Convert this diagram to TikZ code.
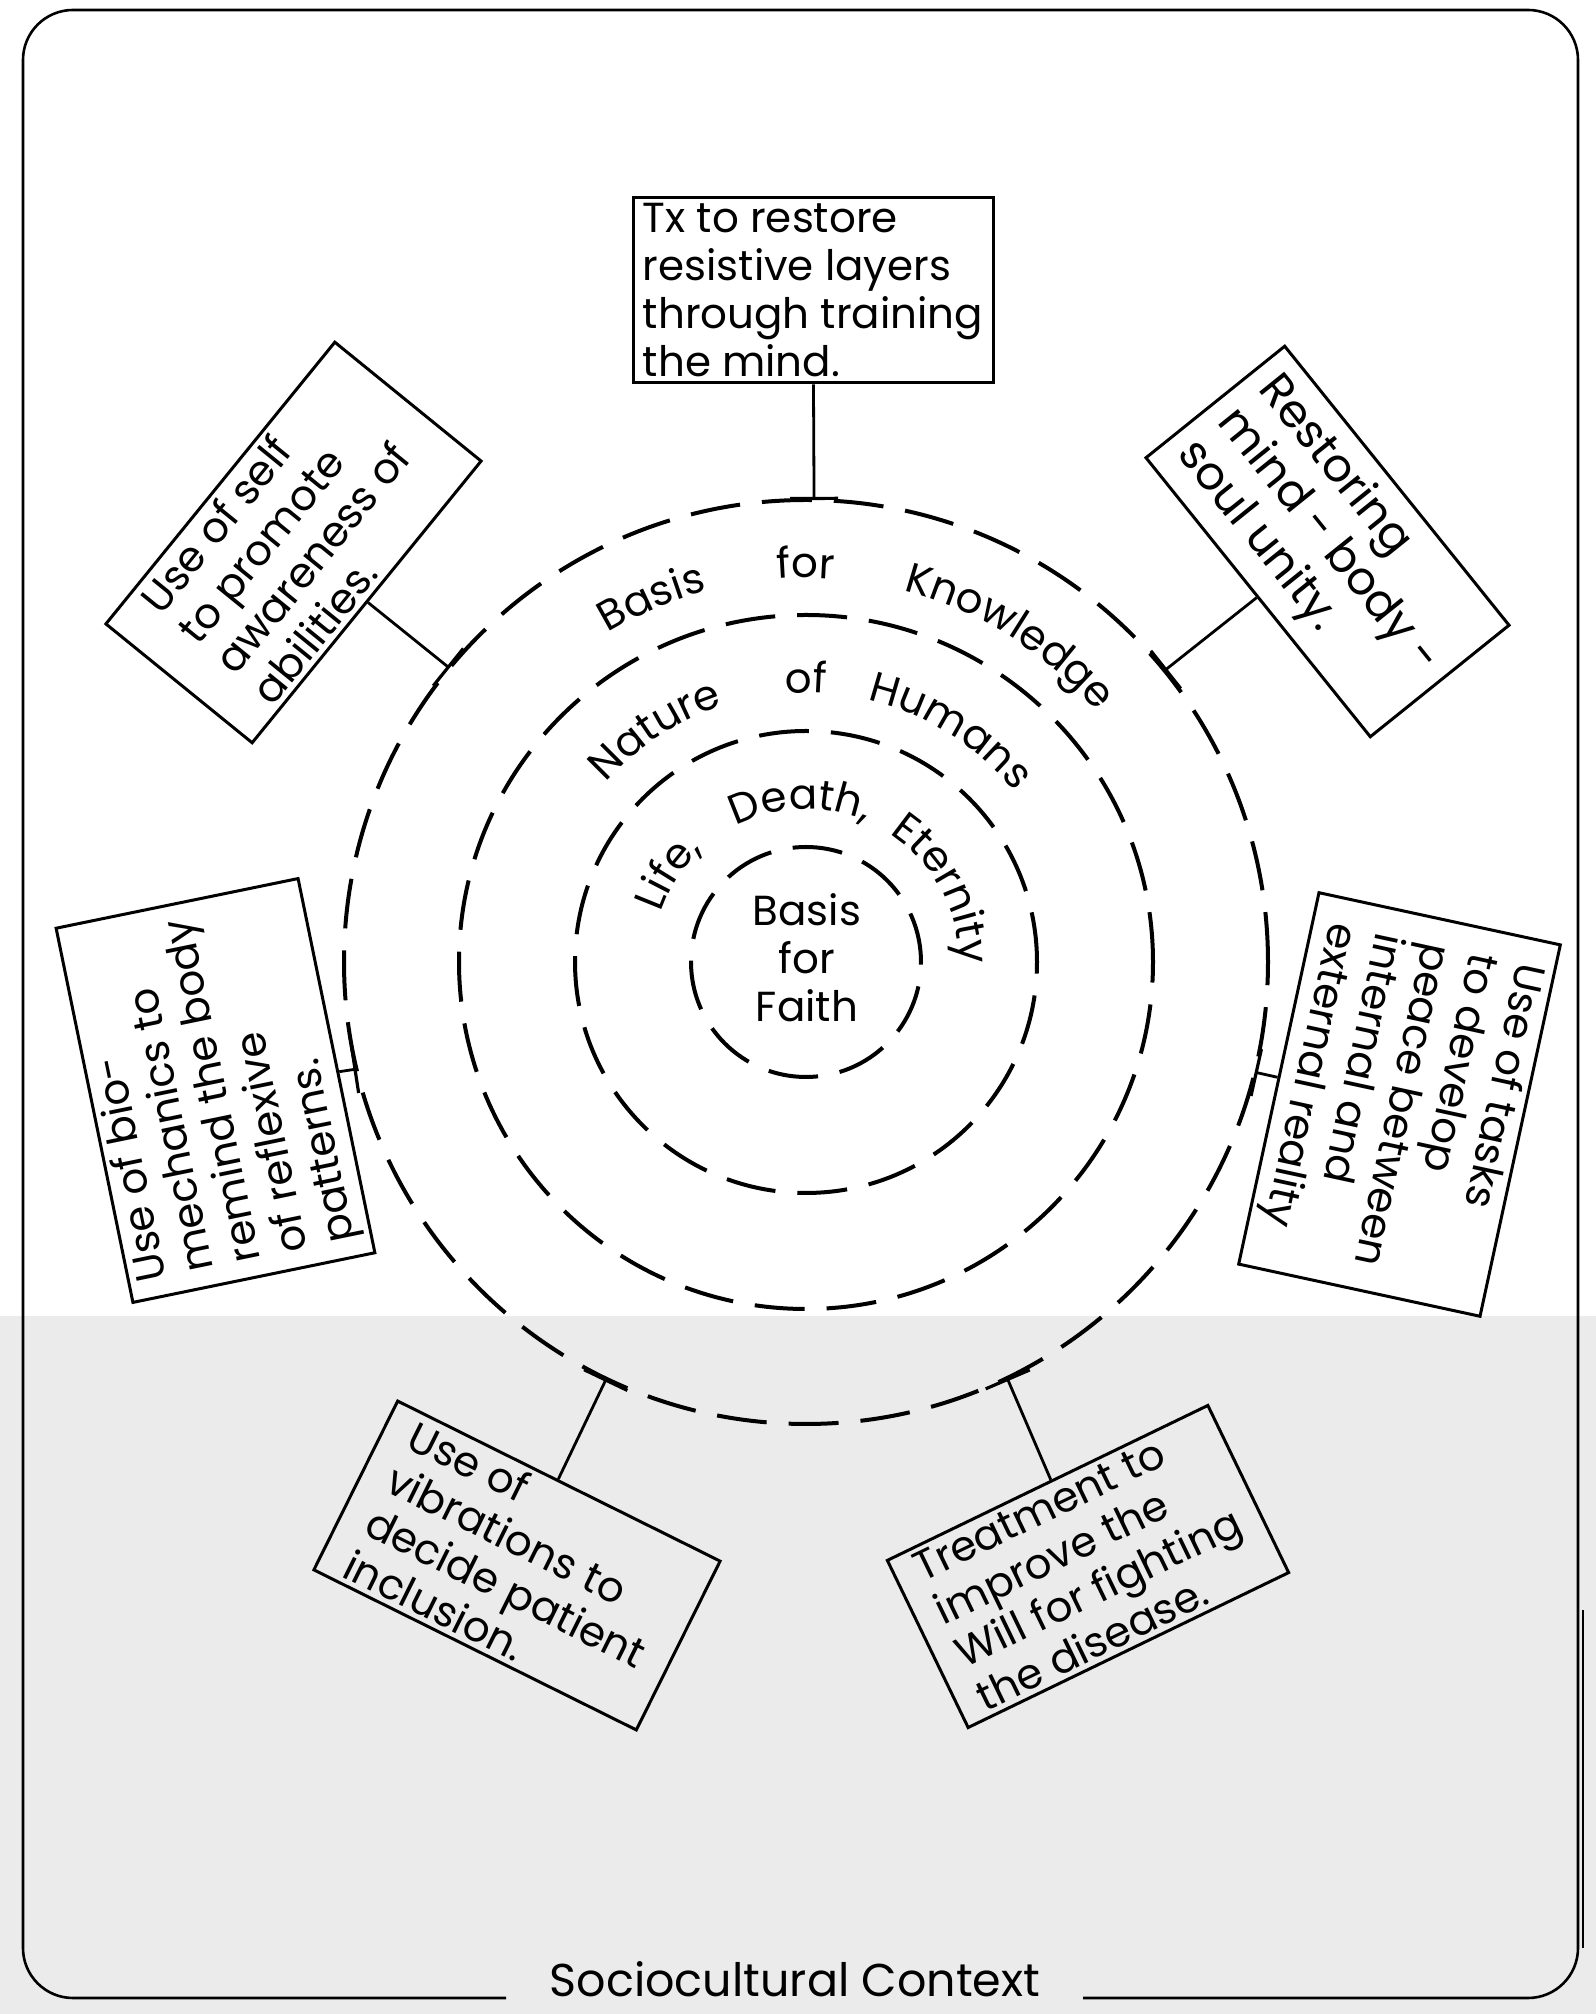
\documentclass[tikz,border=0pt]{standalone}
\usepackage{fontspec}
\setmainfont{Poppins}
\usetikzlibrary{arrows.meta,calc,decorations.text}

\newcommand{\boxfont}{\fontsize{21}{24}\selectfont}
\newcommand{\bigboxfont}{\fontsize{23}{26}\selectfont}
% one word bent along a ring: angle, radius, word
\newcommand{\ringword}[3]{%
  \path[decorate, decoration={text along path, text align=center, text={|\boxfont|#3}}]
    ($(ctr)+(#1+70:#2)$) arc[start angle=#1+70, end angle=#1-70, radius=#2];}

\begin{document}
\begin{tikzpicture}[x=0.5pt, y=0.5pt,
    box/.style={draw, rectangle, line width=1.5pt, inner sep=3pt, align=left, font=\boxfont},
    ring/.style={line width=2pt, dash pattern=on 25pt off 11pt},
    link/.style={line width=1.4pt, -{Bar[width=24pt, line width=1.6pt]}},
    frame/.style={line width=1.3pt, rounded corners=25pt}]

  % page
  \useasboundingbox (0,0) rectangle (1596,2014);
  \fill[black!8] (0,0) rectangle (1596,698);

  % frame
  \draw[frame] (506,16) -- (23,16) -- (23,2004) -- (1578,2004) -- (1578,16) -- (1083,16);
  \draw[line width=1.3pt] (1583,404) -- (1583,66);
  \node[font=\fontsize{23}{24}\selectfont, anchor=base, inner sep=0pt] (context) at (795,18) {Sociocultural Context};

  % rings
  \coordinate (ctr) at (806,1052);
  \foreach \r in {115,231,347,462}
    \draw[ring] (ctr) circle[radius=\r];
  \node[font=\boxfont, align=center] (faith) at (807,1056) {Basis\\for\\Faith};

  \ringword{113}{384}{Basis}
  \ringword{90}{384}{for}
  \ringword{58}{384}{Knowledge}
  \ringword{123}{269}{Nature}
  \ringword{90}{269}{of}
  \ringword{58}{269}{Humans}
  \ringword{147}{153}{Life,}
  \ringword{92}{153}{Death,}
  \ringword{28}{153}{Eternity}

  % boxes
  \node[box, minimum width=180pt, minimum height=91pt] (restore) at (813,1724)
    {Tx to restore\\resistive layers\\through training\\the mind.};
  \node[box, rotate=50.9, minimum width=181.5pt, minimum height=89pt] (self) at (293.5,1471.5)
    {Use of self\\to promote\\awareness of\\abilities.};
  \node[box, rotate=-51.2, minimum width=179pt, minimum height=89pt, font=\bigboxfont] (unity) at (1327.5,1472.5)
    {Restoring\\mind - body -\\soul unity.};
  \node[box, rotate=101.6, minimum width=191pt, minimum height=121pt] (biomech) at (215.5,923.5)
    {Use of bio-\\mechanics to\\remind the body\\of reflexive\\patterns.};
  \node[box, rotate=-102.2, minimum width=190pt, minimum height=118pt] (tasks) at (1399.5,909.5)
    {Use of tasks\\to develop\\peace between\\internal and\\external reality};
  \node[box, rotate=-26.4, minimum width=180pt, minimum height=92pt] (vibr) at (517,448.5)
    {Use of\\vibrations to\\decide patient\\inclusion.};
  \node[box, rotate=25.8, minimum width=178pt, minimum height=91pt] (will) at (1088,447.5)
    {Treatment to\\improve the\\Will for fighting\\the disease.};

  % links to the outer ring
  \coordinate (c-restore) at ($(ctr)+(89:462)$);
  \coordinate (c-self) at ($(ctr)+(140.5:462)$);
  \coordinate (c-unity) at ($(ctr)+(39.1:462)$);
  \coordinate (c-biomech) at ($(ctr)+(193.4:462)$);
  \coordinate (c-tasks) at ($(ctr)+(-13.8:462)$);
  \coordinate (c-vibr) at ($(ctr)+(-115.6:462)$);
  \coordinate (c-will) at ($(ctr)+(-64.2:462)$);
  \foreach \b in {restore,self,unity,biomech,tasks,vibr,will}
    \draw[link] (\b) -- (c-\b);
\end{tikzpicture}
\end{document}
